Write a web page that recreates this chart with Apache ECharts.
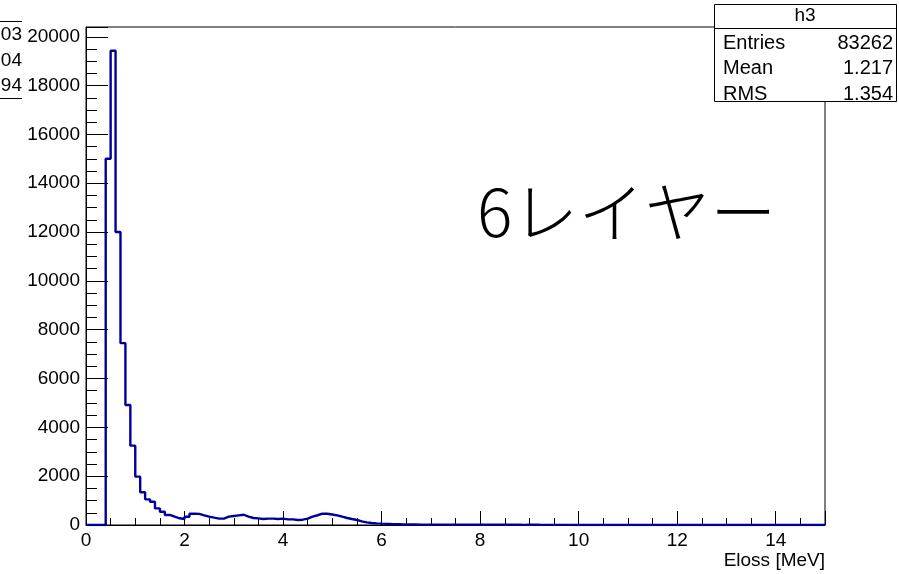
<!DOCTYPE html>
<html>
<head>
<meta charset="utf-8">
<script src="https://cdn.jsdelivr.net/npm/echarts@6/dist/echarts.min.js"></script>
<style>
  html, body { margin: 0; padding: 0; background: #ffffff; }
  #chart { width: 899px; height: 574px; }
</style>
</head>
<body>
<div id="chart"></div>
<script>
// Energy-loss histogram h3: 150 bins of 0.1 MeV from 0 to 15 MeV
const binLow = 0;
const binWidth = 0.1;
const counts = [
  0, 0, 0, 0, 15000, 19430, 12000, 7450, 4914, 3250,
  1980, 1340, 1050, 950, 680, 545, 410, 340, 275, 245,
  341, 460, 455, 396, 341, 300, 260, 260, 341, 370,
  396, 420, 341, 287, 273, 245, 260, 260, 245, 260,
  232, 232, 205, 218, 260, 341, 400, 465, 460, 430,
  396, 341, 287, 245, 205, 150, 109, 82, 68, 55,
  45, 38, 32, 28, 25, 22, 20, 17, 16, 15,
  14, 13, 12, 11, 10, 10, 9, 9, 8, 8,
  12, 10, 9, 8, 8, 10, 9, 8, 7, 9,
  10, 8, 7, 6, 7, 5, 4, 4, 3, 3,
  2, 3, 2, 2, 1, 2, 1, 1, 2, 1,
  1, 0, 1, 1, 0, 1, 0, 0, 1, 0,
  0, 1, 0, 0, 0, 1, 0, 0, 0, 0,
  0, 0, 1, 0, 0, 0, 0, 0, 0, 0,
  0, 0, 0, 0, 0, 0, 0, 0, 0, 0
];

// Axis ranges and tick labels
const xRange = [0, 15];
const yRange = [0, 20400];
const xTicks = [0, 2, 4, 6, 8, 10, 12, 14];
const yTicks = [0, 2000, 4000, 6000, 8000, 10000, 12000, 14000, 16000, 18000, 20000];

// Statistics box contents
const statsTitle = 'h3';
const statsRows = [
  ['Entries', '83262'],
  ['Mean', '1.217'],
  ['RMS', '1.354']
];
// Fragments of a neighbouring statistics box
const sideFragments = ['03', '04', '94'];
const overlayText = '6レイヤー';
const xTitle = 'Eloss [MeV]';

// Step outline: one point per bin low edge, closed at the upper edge
const stepPoints = counts.map((c, i) => [binLow + i * binWidth, c]);
stepPoints.push([binLow + counts.length * binWidth, counts[counts.length - 1]]);

const FONT = '"Liberation Sans", Arial, Helvetica, sans-serif';
const chart = echarts.init(document.getElementById('chart'), null, { renderer: 'canvas' });

const graphics = [];
// stats box
graphics.push({
  type: 'rect', z: 100,
  shape: { x: 714.5, y: 4.5, width: 182, height: 97 },
  style: { fill: '#ffffff', stroke: '#000000', lineWidth: 1 }
});
graphics.push({
  type: 'line', z: 101,
  shape: { x1: 714.5, y1: 28.5, x2: 896.5, y2: 28.5 },
  style: { stroke: '#000000', lineWidth: 1 }
});
graphics.push({
  type: 'text', z: 102, x: 805, y: 16,
  style: { text: statsTitle, font: '19px ' + FONT, fill: '#000', textAlign: 'center', textVerticalAlign: 'middle' }
});
statsRows.forEach((row, i) => {
  const yy = 43.5 + i * 25.3;
  graphics.push({
    type: 'text', z: 102, x: 723, y: yy,
    style: { text: row[0], font: '20px ' + FONT, fill: '#000', textAlign: 'left', textVerticalAlign: 'middle' }
  });
  graphics.push({
    type: 'text', z: 102, x: 893, y: yy,
    style: { text: row[1], font: '20px ' + FONT, fill: '#000', textAlign: 'right', textVerticalAlign: 'middle' }
  });
});
// clipped neighbouring box at the left edge
sideFragments.forEach((t, i) => {
  graphics.push({
    type: 'text', z: 102, x: 22, y: 35 + i * 25.5,
    style: { text: t, font: '19px ' + FONT, fill: '#000', textAlign: 'right', textVerticalAlign: 'middle' }
  });
});
graphics.push({ type: 'line', z: 101, shape: { x1: 0, y1: 21.5, x2: 22, y2: 21.5 }, style: { stroke: '#000', lineWidth: 1 } });
graphics.push({ type: 'line', z: 101, shape: { x1: 0, y1: 98.5, x2: 22, y2: 98.5 }, style: { stroke: '#000', lineWidth: 1 } });
// large annotation
graphics.push({
  type: 'text', z: 102, x: 477, y: 212,
  style: { text: overlayText, font: '300 66px "Noto Sans CJK JP", "Noto Sans", sans-serif', fill: '#000', textAlign: 'left', textVerticalAlign: 'middle' }
});
// x-axis title
graphics.push({
  type: 'text', z: 102, x: 825, y: 561,
  style: { text: xTitle, font: '19px ' + FONT, fill: '#000', textAlign: 'right', textVerticalAlign: 'middle' }
});

chart.setOption({
  animation: false,
  backgroundColor: '#ffffff',
  grid: {
    left: 86, top: 27, right: 74, bottom: 49,
    show: true, borderColor: '#000000', borderWidth: 1, backgroundColor: 'transparent'
  },
  xAxis: {
    type: 'value',
    min: xRange[0], max: xRange[1], interval: 2,
    axisLine: { show: true, onZero: false, lineStyle: { color: '#000', width: 1 } },
    axisTick: { show: true, inside: true, length: 14, lineStyle: { color: '#000', width: 1 } },
    minorTick: { show: true, splitNumber: 4, length: 7, lineStyle: { color: '#000', width: 1 } },
    splitLine: { show: false },
    axisLabel: {
      show: true, margin: 6, color: '#000', fontSize: 19, fontFamily: FONT,
      formatter: v => (xTicks.indexOf(v) >= 0 ? String(v) : ''),
      showMaxLabel: false
    }
  },
  yAxis: {
    type: 'value',
    min: yRange[0], max: yRange[1], interval: 2000,
    axisLine: { show: true, onZero: false, lineStyle: { color: '#000', width: 1 } },
    axisTick: { show: true, inside: true, length: 22, lineStyle: { color: '#000', width: 1 } },
    minorTick: { show: true, splitNumber: 4, length: 11, lineStyle: { color: '#000', width: 1 } },
    splitLine: { show: false },
    axisLabel: {
      show: true, margin: 6, color: '#000', fontSize: 19, fontFamily: FONT,
      formatter: v => (yTicks.indexOf(v) >= 0 ? String(v) : ''),
      showMaxLabel: false
    }
  },
  series: [{
    type: 'line',
    data: stepPoints,
    step: 'end',
    showSymbol: false,
    clip: true,
    lineStyle: { color: '#000099', width: 2.4 },
    z: 5
  }],
  graphic: graphics
});
</script>
</body>
</html>
